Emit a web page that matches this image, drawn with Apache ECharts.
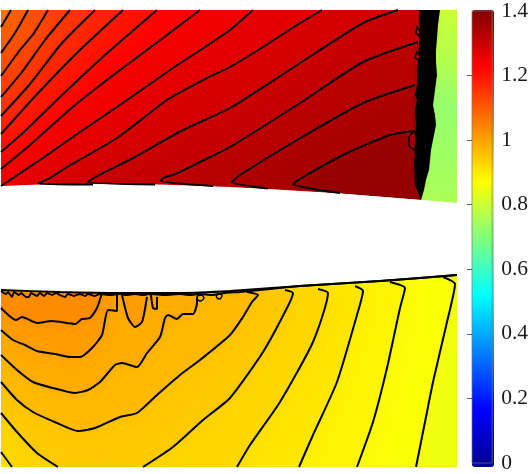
<!DOCTYPE html>
<html>
<head>
<meta charset="utf-8">
<style>html,body{margin:0;padding:0;background:#fff}#chart{width:531px;height:474px}</style>
<script src="https://cdn.jsdelivr.net/npm/echarts@6/dist/echarts.min.js"></script>
</head>
<body>
<div id="chart"></div>
<script>
// jet colormap, 0 to 1.4
var jet = ["#00008f","#0000ff","#0080ff","#00ffff","#80ff80","#ffff00","#ff8000","#ff0000","#800000"];
var barTicks = [0,0.2,0.4,0.6,0.8,1,1.2,1.4];
var innerTicks = [0.2,0.4,0.6,0.8,1,1.2];

// upper surface and lower surface of the two blocks
var upperSurface = [[1,186],[40,184.5],[90,184],[160,184.5],[230,187],[268,189],[340,193.5],[421,200],[457,203]];
var lowerSurface = [[1,290],[60,292],[120,293],[180,293],[230,291],[300,286],[380,281],[457,275]];

// upper contours, surface end first
var u1 = [[1,27],[11,10]];
var u2 = [[1,53],[15,33],[28,10]];
var u3 = [[1,76],[20,50],[34,33],[48,10]];
var u4 = [[1,97],[22,72],[45,40],[70,10]];
var u5 = [[1,116],[30,84],[62,43],[95,10]];
var u6 = [[1,134],[40,91],[80,50],[123,10]];
var u7 = [[1,152],[25,131],[60,97],[105,55],[157,10]];
var u8 = [[1,169],[30,145],[75,105],[120,70],[167,35],[200,10]];
var u9 = [[1,186],[40,160],[80,132],[117,107],[170,70],[205,47],[230,30],[253,10]];
var u10 = [[93,184.5],[38,183.5],[50,178],[67,167],[117,138],[167,100],[207,78],[230,67],[263,47],[297,25],[322,10]];
var u11 = [[155,184.5],[88,182],[97,176],[133,158],[183,130],[230,108],[297,65],[363,23],[398,10]];
var u12 = [[213,186],[161,181],[163,178],[175,174],[200,162],[230,147],[297,105],[363,62],[418,42]];
var u13 = [[268,188.5],[232,182],[240,175],[297,140],[363,103],[415,85]];
var u14 = [[340,193],[293,184],[303,177],[347,153],[390,135],[413,131]];
var upperContours = [u1,u2,u3,u4,u5,u6,u7,u8,u9,u10,u11,u12,u13,u14];
var upperLevels = [1.09,1.11,1.13,1.15,1.17,1.19,1.215,1.235,1.255,1.275,1.295,1.315,1.335,1.355];

// lower contours, surface end first
var b1 = [[102,293],[97,308],[90,318],[82,319],[75,324],[52,321],[37,323],[22,317],[16,320],[1,308]];
var b2 = [[117,295],[117,311],[108,310],[102,335],[92,348],[80,357],[70,357],[55,354],[37,351],[25,345],[13,340],[1,330]];
var b3 = [[197,297],[197,303],[193,314],[183,314],[177,319],[168,315],[165,318],[160,337],[147,353],[137,367],[122,363],[115,365],[100,382],[88,390],[75,393],[53,388],[33,382],[17,370],[1,355]];
var b4 = [[247,292],[258,295],[252,302],[243,317],[230,335],[200,360],[180,375],[157,395],[137,413],[120,417],[95,428],[78,431],[57,423],[33,412],[17,400],[1,382]];
var b5 = [[285,290],[293,293],[287,308],[263,352],[230,398],[203,420],[173,447],[143,467]];
var b5b = [[58,467],[37,453],[17,432],[1,413]];
var b6 = [[318,289],[328,293],[313,342],[280,402],[250,445],[237,467]];
var b6b = [[12,467],[1,452]];
var b7 = [[355,286],[363,291],[357,315],[337,382],[313,435],[299,467]];
var b8 = [[390,282],[405,288],[400,308],[387,368],[373,422],[357,467]];
var b9 = [[443,277],[455,284],[447,322],[433,382],[427,412],[416,467]];
var lowerContours = [b1,b2,b3,b4,b5,b6,b7,b8,b9];
var lowerTails = [null,null,null,null,b5b,b6b,null,null,null];
var lowerLevels = [1.02,1,0.98,0.96,0.94,0.92,0.9,0.88,0.86];

// closed pockets under the lower surface
var finger1 = [[122,295],[128,318],[135,327],[142,322],[147,297]];
var finger2 = [[151,295],[153,308],[157,309],[157,297]];
var pocket1 = [[197,296],[198,300],[201,301],[204,298],[202,295]];
var pocket2 = [[216,295],[217,298],[220,299],[222,296],[221,294]];
var fringe = [[1,291],[6,294],[8,292],[12,297],[14,292],[19,295],[21,293],[26,297],[29,297],[31,293],[37,296],[40,293],[44,296],[47,293],[52,295],[56,293],[60,295],[65,297],[68,294],[74,296],[80,294],[85,296],[88,294],[94,296],[100,294],[110,295],[120,294],[126,295],[135,294],[143,295],[150,294],[165,295],[180,294],[190,295],[200,294],[212,295],[225,293],[240,292],[270,289],[300,286],[380,281],[457,275]];

// shock: outline of the packed contours and the field behind it
var shockLeft = [[420,10],[419,20],[420,30],[419,45],[418,60],[417,75],[417,85],[415,95],[417,100],[415,110],[416,125],[415,135],[415,150],[414,165],[415,185],[421,200]];
var shockRight = [[440,10],[438,25],[437,38],[436,50],[436,62],[437,75],[435,90],[433,105],[435,115],[436,125],[433,140],[431,150],[430,160],[429,170],[426,180],[424,190],[421,200]];
var shockLoops = [[[414,131],[409,137],[409,146],[414,150],[416,145],[416,135]],[[417,27],[420,31],[419,36],[416,33]],[[417,52],[420,56],[419,60],[415,58]]];
var loopLevels = [1.36,1.3,1.3];
var wedgeY = [10,60,105,150,203];
var wedgeV = [0.8,0.77,0.73,0.74,0.76];

var upperCornerValue = 1.05, upperDeepValue = 1.39, lowerCoreValue = 1.05, lowerEdgeValue = 0.845;

function colorOf(v) { return echarts.color.lerp(v / 1.4, jet); }

// painted back to front, each one covers everything on the far side of its contour
var fills = [];
function addFill(pts, v0, v1, soft) { fills.push({ pts: pts, solid: colorOf((v0 + v1) / 2), soft: soft }); }

// wedge behind the shock
fills.push({ pts: [[418,10],[457,10],[457,203],[421,200]], wedge: true });

// upper block
addFill(upperSurface.slice(0, 8).concat([[421,10],[1,10]]), upperLevels[13], upperDeepValue);
for (var i = upperContours.length - 1; i >= 0; i--) {
  var c = upperContours[i], last = c[c.length - 1], first = c[0];
  var pts = c.concat([[last[0],10],[1,10],[1,186]]).concat(upperSurface.filter(function (p) { return p[0] < first[0]; }));
  addFill(pts, upperLevels[i], i > 0 ? upperLevels[i - 1] : upperCornerValue, true);
}

// lower block
addFill(lowerSurface.concat([[457,467],[1,467]]), lowerLevels[8], lowerEdgeValue);
for (var k = lowerContours.length - 1; k >= 0; k--) {
  var b = lowerContours[k], tail = lowerTails[k], head = b[0];
  var ring = tail ? b.concat(tail) : b;
  var end = ring[ring.length - 1];
  var bp = ring.slice();
  if (end[1] >= 467) bp.push([1,467]);
  bp.push([1,290]);
  bp = bp.concat(lowerSurface.filter(function (p) { return p[0] < head[0]; }));
  addFill(bp, lowerLevels[k], k > 0 ? lowerLevels[k - 1] : lowerCoreValue, true);
}
addFill(finger1.concat([[147,292],[122,292]]), 1, 1.02);
addFill(finger2.concat([[157,292],[151,292]]), 1, 1.01);
addFill(pocket1, 0.98, 0.98);
addFill(pocket2, 0.98, 0.98);

// white gap between the blocks, hides the soft edges that spill into it
fills.push({ pts: upperSurface.concat(lowerSurface.slice().reverse()), solid: "#fff" });

// shock on top
fills.push({ pts: shockLeft.concat(shockRight.slice().reverse()), solid: "#000" });
shockLoops.forEach(function (l, i) {
  fills.push({ pts: l, solid: colorOf(loopLevels[i]), stroke: true });
});

function renderFill(params, api) {
  var f = fills[params.dataIndex];
  var points = f.pts.map(function (p) { return api.coord(p); });
  var fill = f.solid;
  if (f.wedge) {
    var y0 = api.coord([0, wedgeY[0]])[1], y1 = api.coord([0, wedgeY[wedgeY.length - 1]])[1];
    fill = new echarts.graphic.LinearGradient(0, y0, 0, y1, wedgeY.map(function (y, n) {
      return { offset: (y - wedgeY[0]) / (wedgeY[wedgeY.length - 1] - wedgeY[0]), color: colorOf(wedgeV[n]) };
    }), true);
  }
  return {
    type: "polygon",
    shape: { points: points },
    style: {
      fill: fill,
      stroke: f.stroke ? "#000" : null,
      lineWidth: f.stroke ? 1.4 : 0,
      shadowBlur: f.soft ? 22 : 0,
      shadowColor: f.soft ? fill : "transparent"
    },
    silent: true
  };
}

function contourSeries(line, width, closed) {
  return {
    type: "line",
    xAxisIndex: 0,
    yAxisIndex: 0,
    data: closed ? line.concat([line[0]]) : line,
    showSymbol: false,
    symbol: "none",
    smooth: 0.2,
    silent: true,
    z: 5,
    animation: false,
    lineStyle: { color: "#000", width: width }
  };
}

var series = [{
  type: "custom",
  xAxisIndex: 0,
  yAxisIndex: 0,
  data: fills.map(function (f, i) { return [i]; }),
  encode: { x: 0 },
  renderItem: renderFill,
  clip: true,
  silent: true,
  animation: false,
  z: 2
}];
upperContours.concat(lowerContours, [b5b, b6b, finger1, finger2]).forEach(function (l) {
  series.push(contourSeries(l, 2));
});
series.push(contourSeries(pocket1, 1.4, true));
series.push(contourSeries(pocket2, 1.4, true));
series.push(contourSeries(fringe, 1.9));
series.push(contourSeries(lowerSurface, 1.9));

var myChart = echarts.init(document.getElementById("chart"), null, { renderer: "canvas" });
myChart.setOption({
  animation: false,
  backgroundColor: "#fff",
  grid: [
    { left: 1, top: 10, width: 456, height: 457 },
    { left: 472, top: 10, width: 22, height: 457, show: true, borderColor: "#777", borderWidth: 0.7, backgroundColor: "transparent", z: 8 }
  ],
  xAxis: [
    { type: "value", gridIndex: 0, min: 1, max: 457, show: false },
    { type: "value", gridIndex: 1, min: 0, max: 1, show: false }
  ],
  yAxis: [
    { type: "value", gridIndex: 0, min: 10, max: 467, inverse: true, show: false },
    {
      type: "value",
      gridIndex: 1,
      position: "right",
      min: 0,
      max: 1.4,
      interval: 0.2,
      z: 8,
      splitLine: { show: false },
      axisLine: { show: false },
      axisTick: { show: true, inside: true, length: 5, customValues: innerTicks, lineStyle: { color: "#333", width: 0.8 } },
      axisLabel: {
        margin: 9,
        fontFamily: "Liberation Serif",
        fontSize: 21.5,
        color: "#1a1a1a",
        padding: [2, 0, 0, 0],
        showMinLabel: true,
        showMaxLabel: true,
        hideOverlap: false,
        formatter: function (v) { return String(barTicks[Math.round(v / 0.2)]); }
      }
    }
  ],
  visualMap: {
    type: "continuous",
    min: 0,
    max: 1.4,
    seriesIndex: [],
    left: 472,
    top: 10,
    padding: 0,
    itemWidth: 22,
    itemHeight: 457,
    calculable: false,
    realtime: false,
    text: null,
    showLabel: false,
    inRange: { color: jet },
    z: 1
  },
  series: series
});
</script>
</body>
</html>
